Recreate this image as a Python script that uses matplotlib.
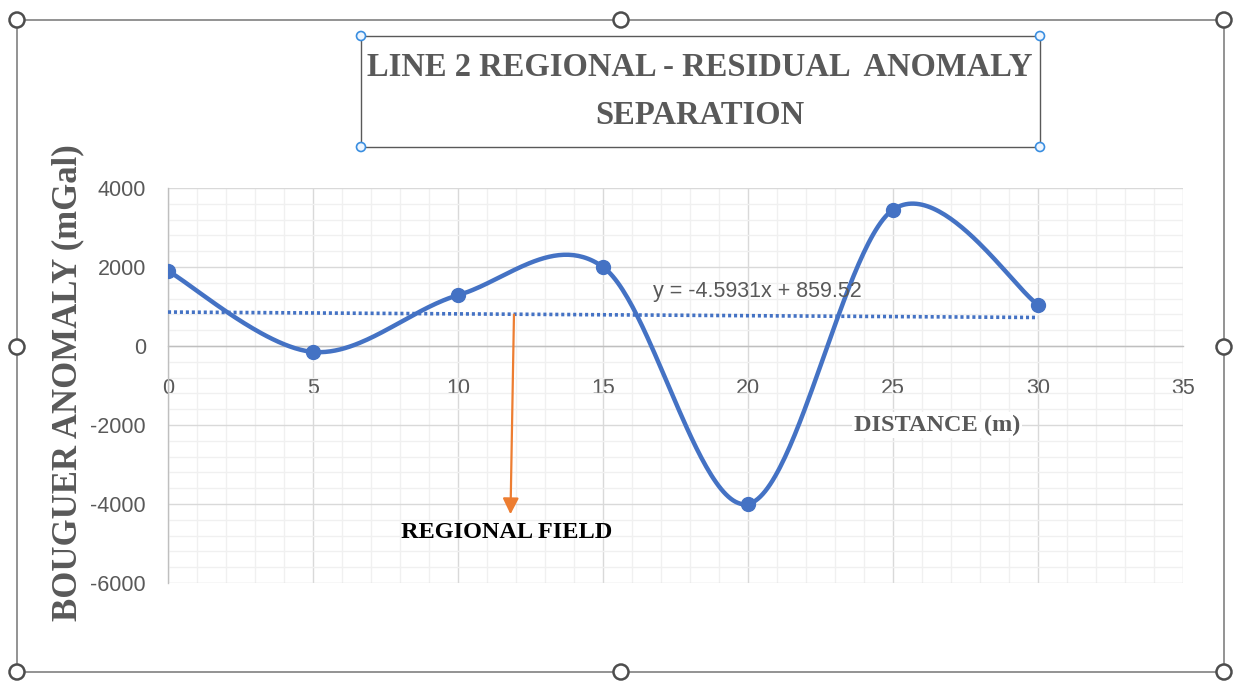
import numpy as np
import matplotlib
matplotlib.use("Agg")
import matplotlib.pyplot as plt
from matplotlib import font_manager as fm
from matplotlib.patches import Circle, Rectangle
from matplotlib.ticker import MultipleLocator

plt.rcParams["axes.unicode_minus"] = False

# ---------------- data ----------------
distance = [0, 5, 10, 15, 20, 25, 30]
bouguer = [1900, -150, 1286, 2000, -4000, 3450, 1048]
x_ticks = [0, 5, 10, 15, 20, 25, 30, 35]
y_ticks = [-6000, -4000, -2000, 0, 2000, 4000]
title_line1 = "LINE 2 REGIONAL - RESIDUAL  ANOMALY"
title_line2 = "SEPARATION"
equation_text = "y = -4.5931x + 859.52"
xlabel_text = "DISTANCE (m)"
ylabel_text = "BOUGUER ANOMALY (mGal)"
annot_text = "REGIONAL FIELD"

# ---------------- fonts ----------------
avail = {f.name for f in fm.fontManager.ttflist}
if "Liberation Sans Narrow" in avail:
    sans, sans_size = "Liberation Sans Narrow", 19
else:
    sans, sans_size = "Liberation Sans", 15.5
serif = "Liberation Serif"

BLUE = "#4472C4"
GREY_TXT = "#595959"
ORANGE = "#ED7D31"


def smooth_curve(xs, ys, n=60):
    """Excel-like smoothed line (Catmull-Rom Bezier through the points)."""
    P = np.column_stack([xs, ys]).astype(float)
    ext = np.vstack([P[0], P, P[-1]])
    out = []
    t = np.linspace(0, 1, n)[:, None]
    for i in range(len(P) - 1):
        p0, p1, p2, p3 = ext[i], ext[i + 1], ext[i + 2], ext[i + 3]
        c1 = p1 + (p2 - p0) / 6.0
        c2 = p2 - (p3 - p1) / 6.0
        seg = ((1 - t) ** 3) * p1 + 3 * ((1 - t) ** 2) * t * c1 + 3 * (1 - t) * t ** 2 * c2 + t ** 3 * p2
        out.append(seg if i == 0 else seg[1:])
    c = np.vstack(out)
    return c[:, 0], c[:, 1]


W, H = 1241, 683
fig = plt.figure(figsize=(W / 100, H / 100), dpi=100)
fig.patch.set_facecolor("white")

# background overlay in pixel coordinates (chart frame, handles, title box)
bg = fig.add_axes([0, 0, 1, 1], zorder=0)
bg.set_xlim(0, W)
bg.set_ylim(H, 0)
bg.axis("off")

frame_l, frame_r, frame_t, frame_b = 17, 1224, 20, 672
bg.add_patch(Rectangle((frame_l, frame_t), frame_r - frame_l, frame_b - frame_t,
                       fill=False, edgecolor="#8a8a8a", lw=1.3))
for (cx, cy) in [(frame_l, frame_t), (621, frame_t), (frame_r, frame_t),
                 (frame_l, 347), (frame_r, 347),
                 (frame_l, frame_b), (621, frame_b), (frame_r, frame_b)]:
    bg.add_patch(Circle((cx, cy), 7.5, facecolor="white", edgecolor="#4d4d4d", lw=1.8, zorder=3))

tb_l, tb_r, tb_t, tb_b = 361, 1040, 36, 147
bg.add_patch(Rectangle((tb_l, tb_t), tb_r - tb_l, tb_b - tb_t,
                       fill=False, edgecolor="#595959", lw=1.0))
for (cx, cy) in [(tb_l, tb_t), (tb_r, tb_t), (tb_l, tb_b), (tb_r, tb_b)]:
    bg.add_patch(Circle((cx, cy), 4.5, facecolor="#eef6ff", edgecolor="#3a8ee0", lw=1.2, zorder=3))

bg.text(700, 68, title_line1, ha="center", va="center", family=serif,
        fontweight="bold", fontsize=23.5, color=GREY_TXT)
bg.text(700, 116, title_line2, ha="center", va="center", family=serif,
        fontweight="bold", fontsize=23.5, color=GREY_TXT)

# ---------------- main chart ----------------
left, right, top, bottom = 168, 1183, 188, 583
ax = fig.add_axes([left / W, 1 - bottom / H, (right - left) / W, (bottom - top) / H], zorder=1)
ax.set_facecolor("none")
ax.set_xlim(0, 35)
ax.set_ylim(-6000, 4000)

ax.xaxis.set_major_locator(MultipleLocator(5))
ax.xaxis.set_minor_locator(MultipleLocator(1))
ax.yaxis.set_major_locator(MultipleLocator(2000))
ax.yaxis.set_minor_locator(MultipleLocator(400))
ax.set_xticks(x_ticks)
ax.set_yticks(y_ticks)
ax.grid(which="major", color="#d9d9d9", lw=1.0)
ax.grid(which="minor", color="#f0f0f0", lw=1.0)
ax.set_axisbelow(True)

for s in ["top", "right"]:
    ax.spines[s].set_visible(False)
ax.spines["bottom"].set_position(("data", 0))
ax.spines["bottom"].set_color("#bfbfbf")
ax.spines["left"].set_color("#bfbfbf")
ax.spines["bottom"].set_linewidth(1.0)
ax.spines["left"].set_linewidth(1.0)

ax.tick_params(axis="both", which="both", length=0)
ax.tick_params(axis="x", pad=23)
ax.tick_params(axis="y", pad=16)
for lab in ax.get_xticklabels() + ax.get_yticklabels():
    lab.set_family(sans)
    lab.set_fontsize(sans_size)
    lab.set_color(GREY_TXT)

# smoothed data line with markers
sx, sy = smooth_curve(distance, bouguer)
ax.plot(sx, sy, color=BLUE, lw=3.2, solid_capstyle="round", zorder=3)
ax.plot(distance, bouguer, "o", color=BLUE, ms=10, zorder=4)

# linear trendline
slope, intercept = np.polyfit(distance, bouguer, 1)
tx = np.array([distance[0], distance[-1]], dtype=float)
ax.plot(tx, slope * tx + intercept, color=BLUE, lw=2.6,
        linestyle=(0, (0.85, 0.8)), zorder=3)
ax.text(16.72, 1370, equation_text, family=sans, fontsize=sans_size,
        color=GREY_TXT, ha="left", va="center", zorder=5)

# annotation arrow
ax.annotate("", xy=(11.81, -4260), xytext=(11.93, slope * 11.93 + intercept - 10),
            arrowprops=dict(arrowstyle="-|>", color=ORANGE, lw=1.6,
                            mutation_scale=24, shrinkA=0, shrinkB=0), zorder=5)
ax.text(11.66, -4709, annot_text, family=serif, fontweight="bold",
        fontsize=17.5, color="black", ha="center", va="center", zorder=5)

# axis titles (drawn as axes texts so that they sit above the gridlines)
ax.text((937 - left) / (right - left), (bottom - 425) / (bottom - top), xlabel_text,
        transform=ax.transAxes, family=serif, fontweight="bold", fontsize=17.5,
        color=GREY_TXT, ha="center", va="center", zorder=6,
        bbox=dict(facecolor="white", edgecolor="none", pad=1.5))
ax.set_ylabel(ylabel_text, family=serif, fontweight="bold", fontsize=25, color=GREY_TXT)
ax.yaxis.label.set_va("center")
ax.yaxis.set_label_coords((68 - left) / (right - left), (bottom - 383) / (bottom - top))

fig.savefig("out.png", dpi=100, facecolor="white")
